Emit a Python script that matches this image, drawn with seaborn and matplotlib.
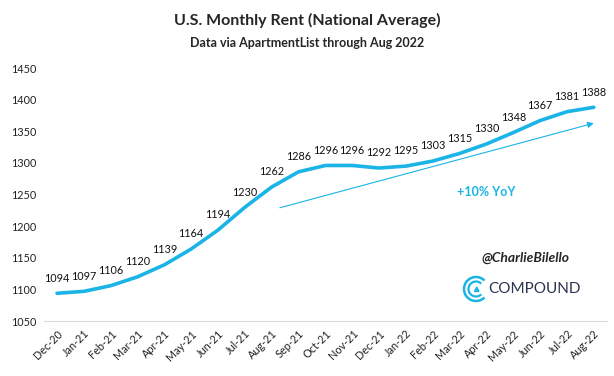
import seaborn as sns
import matplotlib.pyplot as plt
import pandas as pd
from matplotlib.patches import Arc, Polygon

# Rent data
months = ['Dec-20', 'Jan-21', 'Feb-21', 'Mar-21', 'Apr-21', 'May-21', 'Jun-21',
          'Jul-21', 'Aug-21', 'Sep-21', 'Oct-21', 'Nov-21', 'Dec-21', 'Jan-22',
          'Feb-22', 'Mar-22', 'Apr-22', 'May-22', 'Jun-22', 'Jul-22', 'Aug-22']
rent = [1094, 1097, 1106, 1120, 1139, 1164, 1194, 1230, 1262, 1286, 1296,
        1296, 1292, 1295, 1303, 1315, 1330, 1348, 1367, 1381, 1388]
y_ticks = [1050, 1100, 1150, 1200, 1250, 1300, 1350, 1400, 1450]

blue = '#1AB4E6'
df = pd.DataFrame({'month': months, 'rent': rent, 'pos': range(len(months))})

sns.set_style('white')
plt.rcParams['font.family'] = ['Lato', 'DejaVu Sans']

fig = plt.figure(figsize=(6.14, 3.76), dpi=100)
ax = fig.add_axes([0.071, 0.146, 0.918, 0.673])

sns.lineplot(data=df, x='pos', y='rent', color=blue, linewidth=2.6, ax=ax)

# data labels above each point
for i, v in enumerate(rent):
    ax.annotate(str(v), (i, v), xytext=(0, 7), textcoords='offset points',
                ha='center', va='bottom', fontsize=7.8, color='#111111')

ax.set_xlim(-0.5, len(months) - 0.5)
ax.set_ylim(1050, 1450)
ax.set_yticks(y_ticks)
ax.set_yticklabels([str(t) for t in y_ticks], fontsize=7.8, color='#222222')
ax.set_xticks(range(len(months)))
ax.set_xticklabels(months, rotation=45, ha='right', rotation_mode='anchor',
                   fontsize=7.8, color='#222222')
ax.set_xlabel('')
ax.set_ylabel('')
ax.tick_params(axis='both', length=0, pad=5)
for s in ['top', 'right', 'left']:
    ax.spines[s].set_visible(False)
ax.spines['bottom'].set_color('#d9d9d9')

# trend arrow
ax.annotate('', xy=(20.1, 1364), xytext=(8.2, 1228),
            arrowprops=dict(arrowstyle='-|>', color=blue, lw=0.8,
                            mutation_scale=9))
ax.text(16.0, 1254, '+10% YoY', color=blue, fontsize=9, fontweight='bold',
        ha='center', va='center')

# titles
fig.text(0.5, 0.945, 'U.S. Monthly Rent (National Average)', ha='center',
         va='center', fontsize=11.5, fontweight='bold')
fig.text(0.5, 0.885, 'Data via ApartmentList through Aug 2022', ha='center',
         va='center', fontsize=9, fontweight='bold')

# watermark
fig.text(0.855, 0.315, '@CharlieBilello', ha='center', va='center',
         fontsize=10, fontweight='bold', style='italic')
fig.text(0.87, 0.232, 'COMPOUND', ha='center', va='center',
         fontsize=11, color='#2b3350')
t = fig.dpi_scale_trans
for r, lw in [(0.12, 1.8), (0.075, 1.6)]:
    fig.add_artist(Arc((4.76, 0.87), 2 * r, 2 * r, theta1=45, theta2=315,
                       color=blue, lw=lw, transform=t))
fig.add_artist(Polygon([[4.745, 0.845], [4.79, 0.845], [4.768, 0.89]],
                       closed=True, color=blue, transform=t))

plt.savefig('out.png', dpi=100)
